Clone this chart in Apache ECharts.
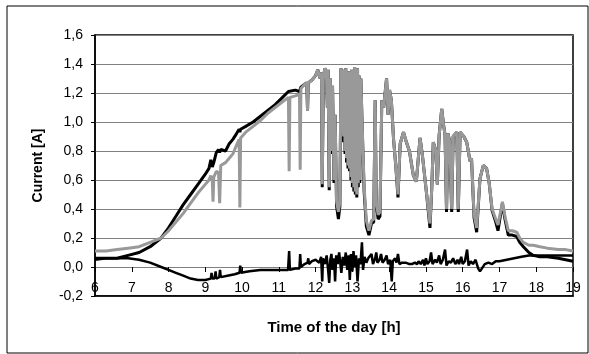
<!DOCTYPE html>
<html>
<head>
<meta charset="utf-8">
<script src="https://cdn.jsdelivr.net/npm/echarts@6/dist/echarts.min.js"></script>
<style>
  html, body { margin: 0; padding: 0; background: #fff; }
  #main { width: 589px; height: 354px; }
</style>
</head>
<body>
<div id="main"></div>
<script>
// time axis shared by the two current curves
const hours = [
  6.0, 6.3, 6.6, 6.9, 7.2, 7.5, 7.8, 8.0, 8.2, 8.4, 8.6, 8.8,
  9.0, 9.1, 9.15, 9.19, 9.21, 9.23, 9.3, 9.36, 9.39, 9.42, 9.55, 9.65, 9.75, 9.85, 9.92, 9.94, 9.96, 10.1,
  10.3, 10.5, 10.7, 10.9, 11.1, 11.26, 11.28, 11.3, 11.45, 11.56, 11.58, 11.6, 11.7, 11.76, 11.78, 11.8, 11.9,
  12.0, 12.06, 12.12, 12.16, 12.18, 12.21, 12.25, 12.29, 12.32, 12.34, 12.37, 12.4, 12.43, 12.46, 12.5, 12.53, 12.57, 12.62, 12.66,
  12.69, 12.72, 12.74, 12.76, 12.78, 12.8, 12.82, 12.84, 12.86, 12.88, 12.9, 12.92, 12.94, 12.96, 12.98, 13.0,
  13.02, 13.04, 13.06, 13.08, 13.1, 13.12, 13.14, 13.16, 13.18, 13.2, 13.23, 13.27, 13.32, 13.38, 13.45, 13.52, 13.58,
  13.62, 13.65, 13.7, 13.75, 13.8, 13.85, 13.93, 13.97, 14.01, 14.06, 14.12, 14.18, 14.24, 14.3, 14.39, 14.47, 14.55, 14.66, 14.74, 14.84, 14.9,
  15.02, 15.11, 15.16, 15.2, 15.27, 15.31, 15.36, 15.43, 15.48, 15.52, 15.56, 15.6, 15.65, 15.7, 15.74, 15.84, 15.88, 15.93, 16.03, 16.11, 16.2, 16.24,
  16.31, 16.38, 16.47, 16.56, 16.65, 16.72, 16.8, 16.9, 16.96, 17.03, 17.08, 17.15, 17.24, 17.35, 17.47, 17.55, 17.65, 17.8, 17.92, 18.1, 18.3, 18.6, 18.8, 19.0
];
const grayCurrent = [
  0.11, 0.11, 0.12, 0.13, 0.14, 0.17, 0.20, 0.25, 0.31, 0.37, 0.44, 0.51,
  0.57, 0.60, 0.63, 0.60, 0.45, 0.62, 0.66, 0.65, 0.44, 0.70, 0.72, 0.75, 0.78, 0.84, 0.88, 0.41, 0.89, 0.93,
  0.97, 1.01, 1.06, 1.10, 1.14, 1.17, 0.66, 1.17, 1.18, 1.19, 0.67, 1.23, 1.26, 1.27, 1.08, 1.27, 1.29,
  1.32, 1.36, 1.30, 1.34, 0.57, 1.30, 1.37, 1.35, 1.10, 1.36, 0.55, 1.30, 0.80, 1.25, 0.60, 1.05, 0.45, 0.38, 0.45,
  1.37, 0.95, 1.36, 0.90, 1.34, 0.80, 1.37, 0.75, 1.30, 0.70, 1.35, 0.68, 1.33, 0.62, 1.36, 0.58,
  1.30, 0.55, 1.38, 0.52, 1.34, 0.50, 1.37, 0.58, 1.32, 0.60, 1.30, 0.95, 0.55, 0.32, 0.25, 0.32, 0.33,
  1.15, 0.45, 0.36, 0.38, 1.15, 1.10, 1.30, 1.05, 1.22, 1.15, 0.88, 0.70, 0.50, 0.85, 0.93, 0.86, 0.80, 0.63, 0.59, 0.89, 0.78,
  0.50, 0.30, 0.55, 0.86, 0.80, 0.57, 0.91, 1.09, 0.98, 0.91, 0.40, 0.92, 0.86, 0.40, 0.90, 0.93, 0.40, 0.93, 0.90, 0.86, 0.73, 0.75,
  0.36, 0.27, 0.61, 0.70, 0.68, 0.58, 0.40, 0.33, 0.29, 0.38, 0.45, 0.35, 0.25, 0.25, 0.24, 0.20, 0.17, 0.15, 0.15, 0.14, 0.13, 0.12, 0.12, 0.11
];
const blackCurrent = [
  0.06, 0.06, 0.06, 0.08, 0.10, 0.14, 0.20, 0.27, 0.35, 0.43, 0.50, 0.57,
  0.64, 0.68, 0.74, 0.69, 0.70, 0.72, 0.79, 0.81, 0.79, 0.81, 0.80, 0.85, 0.88, 0.92, 0.95, 0.93, 0.95, 0.97,
  1.00, 1.04, 1.08, 1.12, 1.17, 1.21, 1.21, 1.22, 1.22, 1.21, 1.20, 1.24, 1.26, 1.27, 1.08, 1.27, 1.29,
  1.32, 1.36, 1.30, 1.34, 0.55, 1.30, 1.37, 1.35, 1.10, 1.36, 0.53, 1.30, 0.78, 1.25, 0.58, 1.05, 0.42, 0.33, 0.42,
  1.37, 0.92, 1.36, 0.86, 1.34, 0.78, 1.37, 0.72, 1.30, 0.68, 1.35, 0.66, 1.33, 0.60, 1.36, 0.55,
  1.30, 0.52, 1.38, 0.50, 1.34, 0.48, 1.37, 0.55, 1.32, 0.58, 1.30, 0.93, 0.52, 0.28, 0.22, 0.30, 0.31,
  1.15, 0.43, 0.33, 0.35, 1.15, 1.10, 1.30, 1.05, 1.22, 1.15, 0.88, 0.70, 0.48, 0.85, 0.93, 0.86, 0.80, 0.63, 0.59, 0.89, 0.78,
  0.50, 0.27, 0.55, 0.86, 0.80, 0.57, 0.91, 1.09, 0.98, 0.91, 0.38, 0.92, 0.86, 0.38, 0.90, 0.93, 0.38, 0.93, 0.90, 0.86, 0.73, 0.75,
  0.34, 0.24, 0.61, 0.70, 0.68, 0.58, 0.39, 0.31, 0.25, 0.36, 0.44, 0.33, 0.22, 0.22, 0.21, 0.17, 0.14, 0.10, 0.08, 0.07, 0.07, 0.06, 0.05, 0.04
];
// lower curve (difference), own time stamps
const diffHours = [
  6.0, 6.3, 6.6, 6.9, 7.2, 7.5, 7.8, 8.0, 8.2, 8.4, 8.6, 8.8, 9.0,
  9.15, 9.17, 9.19, 9.25, 9.28, 9.3, 9.38, 9.4, 9.42, 9.6, 9.8, 9.93, 9.95, 9.97, 10.2, 10.5, 10.8, 11.0, 11.25, 11.28, 11.3, 11.45, 11.56, 11.58, 11.6, 11.7, 11.78, 11.8, 11.82, 11.9, 12.0,
  12.1, 12.15, 12.18, 12.2, 12.25, 12.3, 12.34, 12.37, 12.4, 12.43, 12.46, 12.5, 12.53, 12.56, 12.6, 12.64, 12.67, 12.7, 12.74, 12.78, 12.82, 12.86, 12.9, 12.93, 12.96, 13.0, 13.03, 13.06, 13.1, 13.14, 13.18, 13.22, 13.26, 13.29,
  13.33, 13.38, 13.43, 13.48, 13.52, 13.56, 13.62, 13.65, 13.68, 13.74, 13.78, 13.82, 13.88, 13.93, 13.97, 14.03, 14.07, 14.1, 14.16, 14.2, 14.24, 14.28, 14.35, 14.45, 14.55, 14.62, 14.7, 14.76, 14.8, 14.86, 14.92, 14.96,
  15.0, 15.04, 15.1, 15.14, 15.18, 15.25, 15.3, 15.36, 15.4, 15.46, 15.52, 15.56, 15.62, 15.68, 15.74, 15.8, 15.86, 15.9, 15.96, 16.0, 16.06, 16.12, 16.16, 16.22, 16.28, 16.35, 16.42, 16.47, 16.52, 16.6, 16.7, 16.8, 16.9, 17.0, 17.2, 17.4, 17.6, 17.8, 18.0, 18.3, 18.6, 19.0
];
const diffCurrent = [
  0.05, 0.06, 0.06, 0.06, 0.05, 0.03, 0.00, -0.02, -0.04, -0.06, -0.08, -0.09, -0.09,
  -0.08, -0.04, -0.08, -0.08, -0.03, -0.08, -0.07, -0.02, -0.07, -0.06, -0.05, -0.04, 0.01, -0.04, -0.03, -0.02, -0.02, -0.02, -0.02, 0.11, -0.02, -0.01, -0.01, 0.09, 0.00, 0.02, 0.03, 0.06, 0.02, 0.04, 0.05,
  0.03, 0.07, -0.10, 0.06, 0.02, 0.08, -0.02, -0.11, 0.05, 0.09, -0.02, 0.06, -0.10, 0.08, 0.02, 0.10, 0.03, -0.04, 0.07, 0.01, 0.10, -0.02, 0.08, -0.09, 0.09, -0.03, 0.11, 0.00, 0.08, -0.10, 0.06, 0.02, 0.17, -0.02,
  0.07, 0.03, 0.06, 0.05, 0.09, 0.02, 0.06, 0.10, 0.03, 0.05, 0.09, 0.03, 0.05, 0.08, 0.02, 0.05, -0.10, 0.04, 0.06, 0.03, 0.09, 0.02, 0.03, 0.03, 0.02, 0.02, 0.03, 0.02, 0.04, 0.02, 0.05, 0.01,
  0.06, 0.02, 0.04, 0.10, 0.02, 0.05, 0.03, 0.08, 0.02, 0.05, 0.12, 0.01, 0.04, 0.03, 0.06, 0.02, 0.05, 0.02, 0.07, 0.02, 0.04, 0.12, 0.01, 0.04, 0.02, 0.05, -0.01, -0.03, -0.02, 0.02, 0.03, 0.02, 0.04, 0.04, 0.05, 0.06, 0.07, 0.08, 0.08, 0.08, 0.08, 0.08
];

const pairs = (xs, ys) => xs.map((x, i) => [x, ys[i]]);
const font = 'Liberation Sans, Arial, sans-serif';

const chart = echarts.init(document.getElementById('main'), null, { renderer: 'canvas' });
chart.setOption({
  animation: false,
  backgroundColor: '#fff',
  graphic: [{
    type: 'rect',
    shape: { x: 7, y: 6, width: 581, height: 347 },
    style: { fill: null, stroke: '#000', lineWidth: 1 },
    silent: true
  }],
  grid: {
    left: 95, right: 16, top: 35, bottom: 58,
    show: true, borderColor: '#000', borderWidth: 1.5
  },
  xAxis: [
    {
      // labels sit inside the plot, just above the bottom border
      type: 'value',
      position: 'bottom',
      min: 6, max: 19, interval: 1,
      name: 'Time of the day [h]',
      nameLocation: 'middle',
      nameGap: 24,
      nameTextStyle: { fontFamily: font, fontWeight: 'bold', fontSize: 15, color: '#000' },
      axisLine: { onZero: false, show: true, lineStyle: { color: '#000', width: 1.5 } },
      axisTick: { show: false },
      axisLabel: { inside: true, margin: 1, fontFamily: font, fontSize: 14, color: '#000' },
      splitLine: { show: false }
    },
    {
      // crossing line at 0 with the hour ticks
      type: 'value',
      position: 'bottom',
      offset: -29,
      min: 6, max: 19, interval: 1,
      axisLine: { onZero: false, show: true, lineStyle: { color: '#808080', width: 1 } },
      axisTick: { show: true, length: 5, lineStyle: { color: '#000', width: 1 } },
      axisLabel: { show: false },
      splitLine: { show: false }
    }
  ],
  yAxis: {
    type: 'value',
    min: -0.2, max: 1.6, interval: 0.2,
    name: 'Current [A]',
    nameLocation: 'middle',
    nameGap: 50,
    nameTextStyle: { fontFamily: font, fontWeight: 'bold', fontSize: 14, color: '#000' },
    axisLine: { show: true, onZero: false, lineStyle: { color: '#000', width: 1.5 } },
    axisTick: { show: true, length: 4, lineStyle: { color: '#000' } },
    axisLabel: {
      margin: 12, fontFamily: font, fontSize: 14, color: '#000',
      formatter: v => v.toFixed(1).replace('.', ',')
    },
    splitLine: { show: true, lineStyle: { color: '#808080', width: 1 } }
  },
  series: [
    {
      type: 'line', name: 'black', data: pairs(hours, blackCurrent),
      showSymbol: false, symbol: 'none',
      lineStyle: { color: '#000', width: 3 }, z: 3
    },
    {
      type: 'line', name: 'gray', data: pairs(hours, grayCurrent),
      showSymbol: false, symbol: 'none',
      lineStyle: { color: '#999999', width: 3 }, z: 4
    },
    {
      type: 'line', name: 'diff', data: pairs(diffHours, diffCurrent),
      showSymbol: false, symbol: 'none',
      lineStyle: { color: '#000', width: 2.5 }, z: 5
    }
  ]
});
</script>
</body>
</html>
